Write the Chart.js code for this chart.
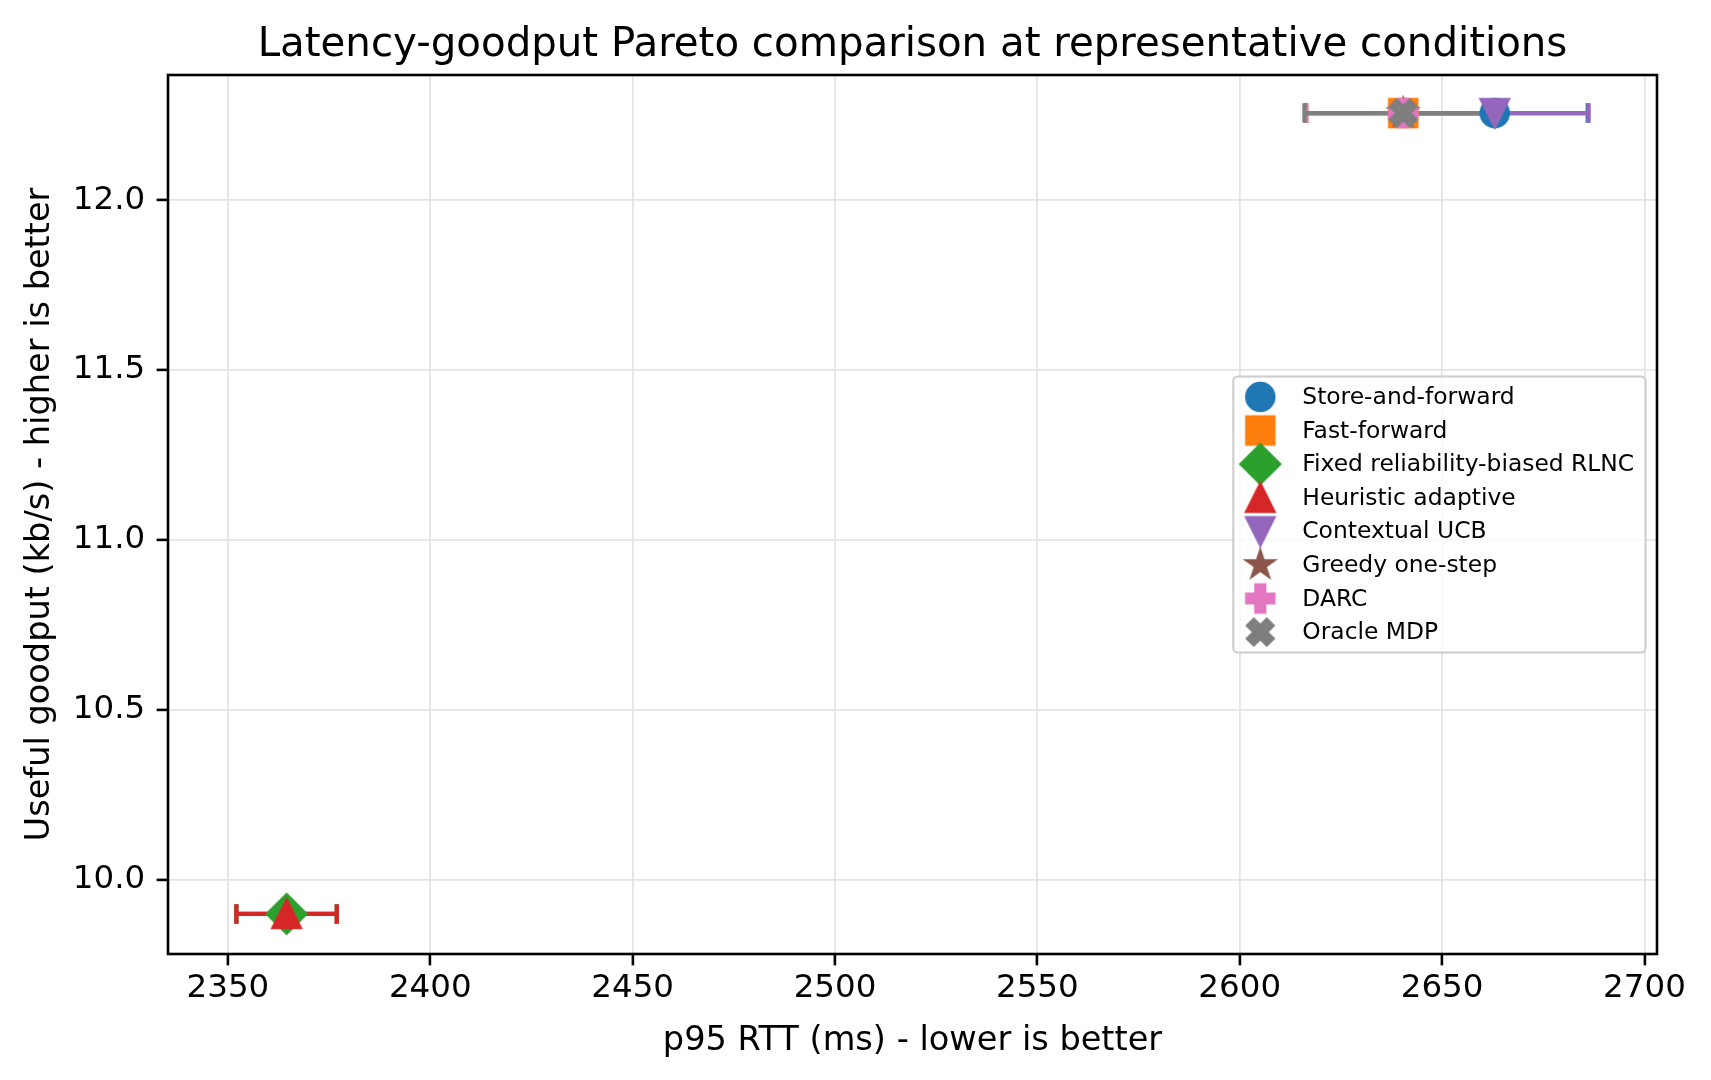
<!DOCTYPE html>
<html>
<head>
<meta charset="utf-8">
<script src="https://cdn.jsdelivr.net/npm/chart.js@4.4.0/dist/chart.umd.min.js"></script>
<style>
  html, body { margin: 0; padding: 0; background: #ffffff; }
  #wrap { width: 1711px; height: 1080px; }
</style>
</head>
<body>
<div id="wrap"><canvas id="c" width="1711" height="1080"></canvas></div>
<script>
// ---- data ----
const seriesNames = [
  'Store-and-forward',
  'Fast-forward',
  'Fixed reliability-biased RLNC',
  'Heuristic adaptive',
  'Contextual UCB',
  'Greedy one-step',
  'DARC',
  'Oracle MDP'
];
const rttMs       = [2663.0, 2640.4, 2364.5, 2364.5, 2663.0, 2640.4, 2640.4, 2640.4];
const rttErr      = [23.0,   24.0,   12.4,   12.4,   23.2,   24.0,   24.0,   24.4];
const goodputKbps = [12.256, 12.256, 9.90,   9.90,   12.256, 12.256, 12.256, 12.256];
const seriesColors = ['#1f77b4', '#ff7f0e', '#2ca02c', '#d62728', '#9467bd', '#8c564b', '#e377c2', '#7f7f7f'];
const seriesMarkers = ['o', 's', 'D', '^', 'v', '*', 'P', 'X'];
const xTickValues = [2350, 2400, 2450, 2500, 2550, 2600, 2650, 2700];
const yTickValues = [10.0, 10.5, 11.0, 11.5, 12.0];
const xRange = [2335.2, 2703.1];
const yRange = [9.782, 12.368];
const titleText = 'Latency-goodput Pareto comparison at representative conditions';
const xLabel = 'p95 RTT (ms) - lower is better';
const yLabel = 'Useful goodput (kb/s) - higher is better';

// ---- styling ----
const FONT = "'DejaVu Sans', 'Liberation Sans', sans-serif";
const PT = 3.25;            // px per point
const TICK_FS = 32.5, LABEL_FS = 33.6, TITLE_FS = 40.3, LEGEND_FS = 23.4;
const MS = 27.5;            // marker size px
const EDGE = 3;             // marker edge width px

function makeMarker(kind, color) {
  const size = Math.ceil(MS * 1.6 + EDGE * 2);
  const cv = document.createElement('canvas');
  cv.width = size; cv.height = size;
  const g = cv.getContext('2d');
  g.translate(size / 2, size / 2);
  const h = MS / 2;
  g.beginPath();
  const poly = (pts) => { pts.forEach((p, i) => i ? g.lineTo(p[0], p[1]) : g.moveTo(p[0], p[1])); g.closePath(); };
  const plus = [[-1,-3],[-1,-1],[-3,-1],[-3,1],[-1,1],[-1,3],[1,3],[1,1],[3,1],[3,-1],[1,-1],[1,-3]].map(p => [p[0] / 6 * MS, p[1] / 6 * MS]);
  switch (kind) {
    case 'o': g.arc(0, 0, h, 0, Math.PI * 2); break;
    case 's': g.rect(-h, -h, MS, MS); break;
    case 'D': { const d = h * Math.SQRT2; poly([[0, -d], [d, 0], [0, d], [-d, 0]]); break; }
    case '^': poly([[0, -h], [h, h], [-h, h]]); break;
    case 'v': poly([[0, h], [h, -h], [-h, -h]]); break;
    case '*': {
      const pts = [];
      for (let i = 0; i < 10; i++) {
        const r = (i % 2) ? h * 0.381966 : h;
        const a = -Math.PI / 2 + i * Math.PI / 5;
        pts.push([r * Math.cos(a), r * Math.sin(a)]);
      }
      poly(pts); break;
    }
    case 'P': poly(plus); break;
    case 'X': {
      const c = Math.cos(Math.PI / 4), s = Math.sin(Math.PI / 4);
      poly(plus.map(p => [p[0] * c - p[1] * s, p[0] * s + p[1] * c])); break;
    }
  }
  g.fillStyle = color; g.fill();
  g.lineWidth = EDGE; g.strokeStyle = color; g.lineJoin = 'miter'; g.stroke();
  return cv;
}

const markerImages = seriesMarkers.map((m, i) => makeMarker(m, seriesColors[i]));

const datasets = seriesNames.map((name, i) => ({
  label: name,
  data: [{ x: rttMs[i], y: goodputKbps[i], xErr: rttErr[i] }],
  pointStyle: markerImages[i],
  pointRadius: 14,
  pointHoverRadius: 14,
  backgroundColor: seriesColors[i],
  borderColor: seriesColors[i],
  errColor: seriesColors[i],
  order: seriesNames.length - i,   // later series drawn on top (as in the reference)
  showLine: false
}));

const errorBarsPlugin = {
  id: 'errorBars',
  beforeDatasetsDraw(chart) {
    const { ctx, scales: { x, y } } = chart;
    ctx.save();
    const cap = 3 * PT;
    chart.data.datasets.forEach(ds => {
      ds.data.forEach(pt => {
        const py = y.getPixelForValue(pt.y);
        const x0 = x.getPixelForValue(pt.x - pt.xErr);
        const x1 = x.getPixelForValue(pt.x + pt.xErr);
        ctx.strokeStyle = ds.errColor;
        ctx.lineWidth = 4.3;
        ctx.lineCap = 'butt';
        ctx.beginPath();
        ctx.moveTo(x0, py); ctx.lineTo(x1, py);
        ctx.moveTo(x0, py - cap); ctx.lineTo(x0, py + cap);
        ctx.moveTo(x1, py - cap); ctx.lineTo(x1, py + cap);
        ctx.stroke();
      });
    });
    ctx.restore();
  }
};

const framePlugin = {
  id: 'frameAndText',
  afterDatasetsDraw(chart) {
    const { ctx, chartArea: a } = chart;
    ctx.save();
    ctx.strokeStyle = '#000';
    ctx.lineWidth = 2.6;
    ctx.strokeRect(a.left, a.top, a.right - a.left, a.bottom - a.top);
    ctx.restore();
  },
  afterDraw(chart) {
    const { ctx, chartArea: a } = chart;
    ctx.save();
    // title
    ctx.fillStyle = '#000';
    ctx.font = `${TITLE_FS}px ${FONT}`;
    ctx.textAlign = 'center';
    ctx.textBaseline = 'alphabetic';
    ctx.fillText(titleText, (a.left + a.right) / 2, a.top - 6 * PT);

    // legend (center right)
    const fs = LEGEND_FS;
    ctx.font = `${fs}px ${FONT}`;
    const maxW = Math.max(...seriesNames.map(n => ctx.measureText(n).width));
    const rowH = 33.6;
    const padL = 27, gap = 42, padR = 11.4, padV = 20.5;
    const w = padL + gap + maxW + padR;
    const h = padV * 2 + rowH * (seriesNames.length - 1);
    const right = a.right - 11.4;
    const left = right - w;
    const top = (a.top + a.bottom) / 2 - h / 2;
    ctx.beginPath();
    ctx.roundRect(left, top, w, h, 4.6);
    ctx.fillStyle = 'rgba(255,255,255,0.8)';
    ctx.fill();
    ctx.strokeStyle = '#cccccc';
    ctx.lineWidth = 2;
    ctx.stroke();
    ctx.textAlign = 'left';
    ctx.textBaseline = 'middle';
    seriesNames.forEach((n, i) => {
      const cy = top + padV + i * rowH;
      Chart.helpers.drawPoint(ctx, { pointStyle: markerImages[i], radius: 14, rotation: 0, borderWidth: 0 }, left + padL, cy);
      ctx.fillStyle = '#000';
      ctx.fillText(n, left + padL + gap, cy + 1);
    });
    ctx.restore();
  }
};

new Chart(document.getElementById('c'), {
  type: 'scatter',
  data: { datasets },
  plugins: [errorBarsPlugin, framePlugin],
  options: {
    responsive: false,
    devicePixelRatio: 1,
    animation: false,
    events: [],
    layout: { padding: { top: 75, right: 54, bottom: 0, left: 0 } },
    plugins: {
      legend: { display: false },
      title: { display: false },
      tooltip: { enabled: false }
    },
    scales: {
      x: {
        type: 'linear',
        min: xRange[0], max: xRange[1],
        afterFit: s => { s.height = 126; },
        afterBuildTicks: s => { s.ticks = xTickValues.map(v => ({ value: v })); },
        border: { display: false },
        grid: { color: '#e4e4e4', lineWidth: 1.8, tickColor: '#000', tickLength: 3.5 * PT, tickWidth: 2.6, drawTicks: true },
        ticks: { color: '#000', font: { family: FONT, size: TICK_FS }, padding: 4, maxRotation: 0, autoSkip: false, includeBounds: false,
                 callback: v => String(v) },
        title: { display: true, text: xLabel, color: '#000', font: { family: FONT, size: LABEL_FS }, padding: { top: 0, bottom: 19 } }
      },
      y: {
        type: 'linear',
        min: yRange[0], max: yRange[1],
        afterFit: s => { s.width = 168; },
        afterBuildTicks: s => { s.ticks = yTickValues.map(v => ({ value: v })); },
        border: { display: false },
        grid: { color: '#e4e4e4', lineWidth: 1.8, tickColor: '#000', tickLength: 3.5 * PT, tickWidth: 2.6, drawTicks: true },
        ticks: { color: '#000', font: { family: FONT, size: TICK_FS }, padding: 11.4, autoSkip: false, includeBounds: false,
                 callback: v => Number(v).toFixed(1) },
        title: { display: true, text: yLabel, color: '#000', font: { family: FONT, size: LABEL_FS }, padding: { top: 20, bottom: 0 } }
      }
    }
  }
});
</script>
</body>
</html>
